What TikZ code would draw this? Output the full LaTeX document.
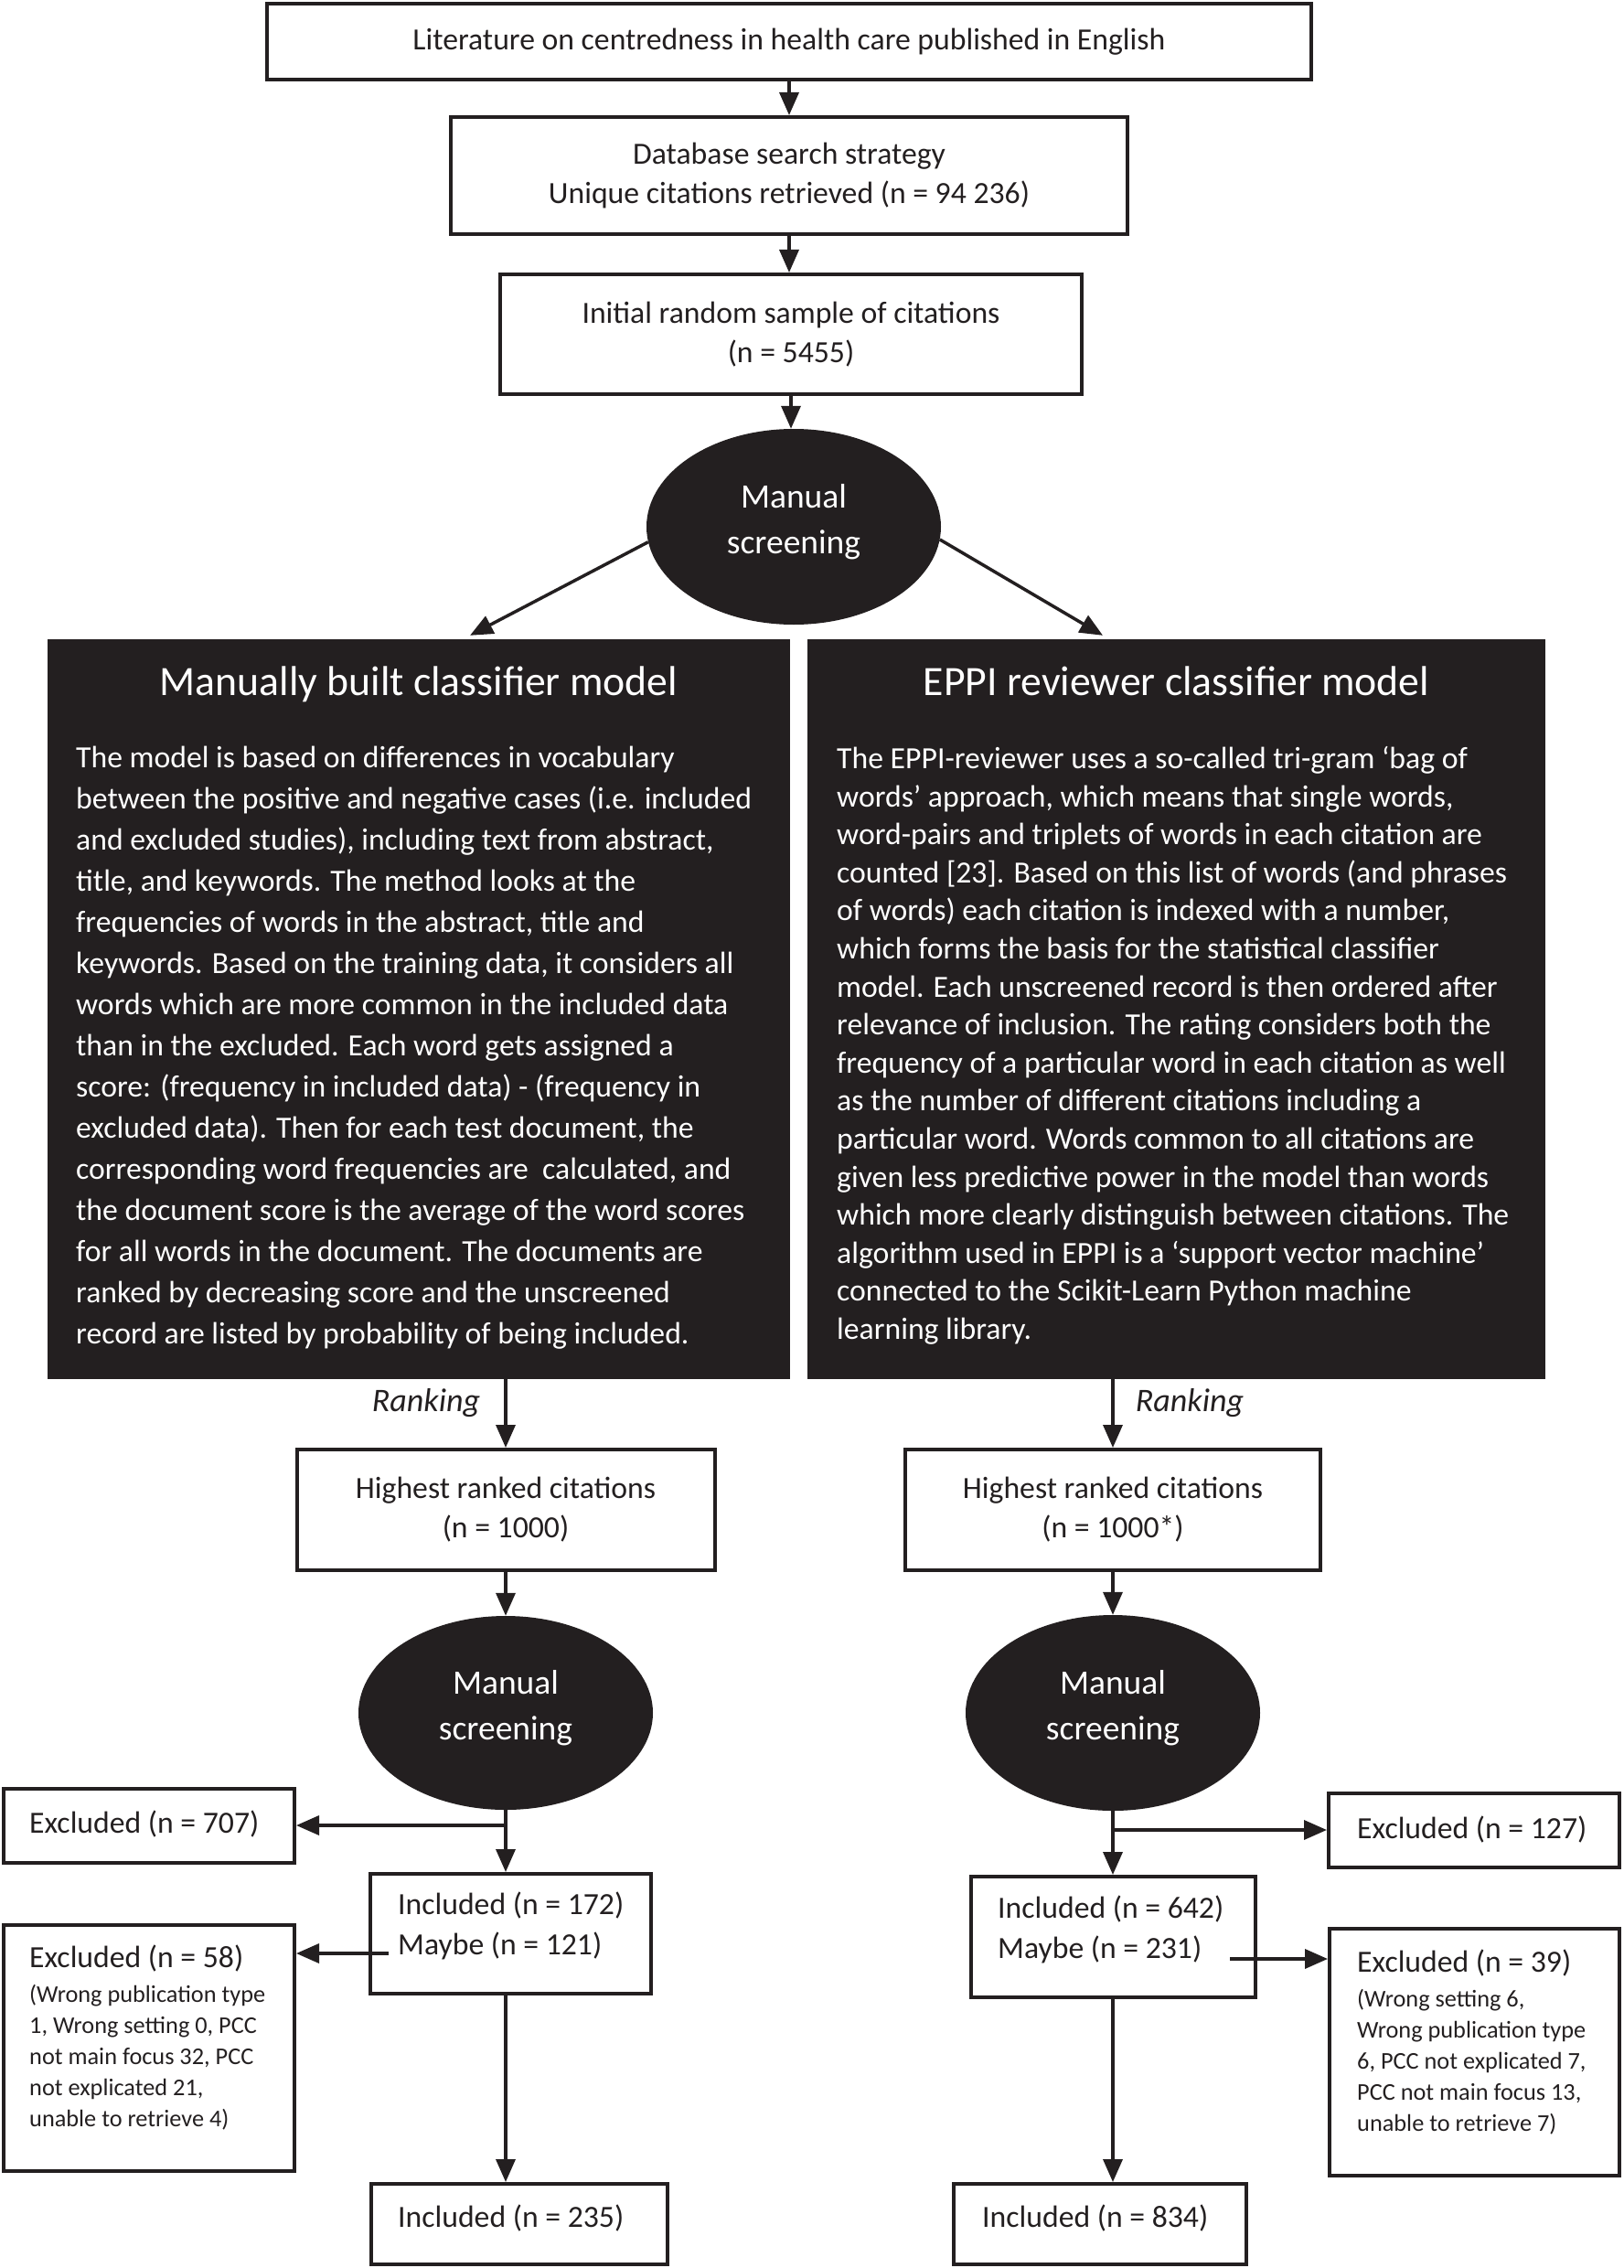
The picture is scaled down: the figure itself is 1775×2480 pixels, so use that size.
\documentclass[tikz,border=0pt]{standalone}
\usepackage{fontspec}
\setmainfont{Carlito}
\usetikzlibrary{arrows.meta,shapes.geometric}
\definecolor{ink}{HTML}{231F20}
\newcommand\fsz[2]{\fontsize{#1}{#2}\selectfont}
\begin{document}
\begin{tikzpicture}[x=1pt,y=-1pt,
  box/.style={draw=ink, line width=4pt, rectangle, inner sep=0pt, text=ink, align=center, font=\fsz{33.7}{43}},
  txt/.style={inner sep=0pt, align=left, text=ink, font=\fsz{33.7}{44}},
  small/.style={inner sep=0pt, align=left, text=ink, font=\fsz{26.3}{34}},
  arr/.style={draw=ink, line width=3.5pt, -{Triangle[length=25pt,width=21pt]}},
  dark/.style={fill=ink, draw=none, inner sep=0pt},
  oval/.style={ellipse, fill=ink, minimum width=322pt, minimum height=212pt, inner sep=0pt},
  ovtxt/.style={inner sep=0pt, text=white, align=center, font=\fsz{37.5}{50}},
  ttl/.style={inner sep=0pt, text=white, font=\fsz{45.7}{50}},
  body/.style={inner sep=0pt, text=white, align=left},
  rank/.style={inner sep=0pt, text=ink, font=\fsz{36}{40}\itshape}
  ]
\useasboundingbox (0,0) rectangle (1775,2480);

% top chain
\node[box, minimum width=1142pt, minimum height=83pt] (lit) at (863,45.5) {Literature on centredness in health care published in English};
\node[box, minimum width=740pt, minimum height=128pt] (db) at (863,192) {Database search strategy\\Unique citations retrieved (n = 94 236)};
\node[box, minimum width=636pt, minimum height=131pt] (samp) at (865,365.5) {Initial random sample of citations\\(n = 5455)};
\node[oval, minimum height=214pt] (ms1) at (868,576) {};
\node[ovtxt] (ms1t) at ([yshift=5pt]ms1.center) {Manual\\screening};

\draw[arr] (lit.south) -- (lit.south |- db.north);
\draw[arr] (db.south) -- (db.south |- samp.north);
\draw[arr] (samp.south) -- (samp.south |- ms1.north);

% dark boxes
\node[dark, minimum width=812pt, minimum height=809pt] (mlb) at (458,1103.5) {};
\node[dark, minimum width=807pt, minimum height=809pt] (epb) at (1286.5,1103.5) {};
\node[ttl, anchor=base] (mlt) at (458,760) {Manually built classifier model};
\node[ttl, anchor=base] (ept) at (1286.5,760) {EPPI reviewer classifier model};
\node[body, anchor=north west, font=\fsz{33.7}{45}] (mlx) at (83,816) {The model is based on differences in vocabulary\\
between the positive and negative cases (i.e. included\\
and excluded studies), including text from abstract,\\
title, and keywords. The method looks at the\\
frequencies of words in the abstract, title and\\
keywords. Based on the training data, it considers all\\
words which are more common in the included data\\
than in the excluded. Each word gets assigned a\\
score: (frequency in included data) - (frequency in\\
excluded data). Then for each test document, the\\
corresponding word frequencies are\ \ calculated, and\\
the document score is the average of the word scores\\
for all words in the document. The documents are\\
ranked by decreasing score and the unscreened\\
record are listed by probability of being included.};
\node[body, anchor=north west, font=\fsz{33.7}{41.6}] (epx) at (915,816) {The EPPI-reviewer uses a so-called tri-gram ‘bag of\\
words’ approach, which means that single words,\\
word-pairs and triplets of words in each citation are\\
counted [23]. Based on this list of words (and phrases\\
of words) each citation is indexed with a number,\\
which forms the basis for the statistical classifier\\
model. Each unscreened record is then ordered after\\
relevance of inclusion. The rating considers both the\\
frequency of a particular word in each citation as well\\
as the number of different citations including a\\
particular word. Words common to all citations are\\
given less predictive power in the model than words\\
which more clearly distinguish between citations. The\\
algorithm used in EPPI is a ‘support vector machine’\\
connected to the Scikit-Learn Python machine\\
learning library.};

\draw[arr] (ms1.186) -- ([xshift=56pt,yshift=4pt]mlb.north);
\draw[arr] (ms1.-5) -- ([xshift=-80.5pt,yshift=4pt]epb.north);

% left column
\node[box, minimum width=457pt, minimum height=132pt] (hr1) at (553,1651) {Highest ranked citations\\(n = 1000)};
\node[oval] (ms2) at (553,1873) {};
\node[ovtxt] (ms2t) at ([yshift=5pt]ms2.center) {Manual\\screening};
\node[rank] (rk1) at (466,1534) {Ranking};
\draw[arr] (hr1.north |- mlb.south) -- (hr1.north);
\draw[arr] (hr1.south) -- (ms2.north);

\node[box, minimum width=318pt, minimum height=81pt] (ex1) at (163,1996) {};
\node[txt, anchor=west] (ex1t) at (32,1994) {Excluded (n = 707)};
\node[box, minimum width=307pt, minimum height=131pt] (im1) at (558.5,2114.5) {};
\node[txt, anchor=west] (im1t) at (435,2106) {Included (n = 172)\\Maybe (n = 121)};
\node[box, minimum width=318pt, minimum height=269pt] (ex2) at (163,2239.5) {};
\node[small, anchor=north west] (ex2t) at (32,2127) {{\fsz{33.7}{34}Excluded (n = 58)}\\[4pt]
(Wrong publication type\\
1, Wrong setting 0, PCC\\
not main focus 32, PCC\\
not explicated 21,\\
unable to retrieve 4)};
\node[box, minimum width=324pt, minimum height=88pt] (inc1) at (568,2432) {};
\node[txt, anchor=west] (inc1t) at (435,2425) {Included (n = 235)};

\draw[arr] (ms2.south) -- (ms2.south |- im1.north);
\draw[arr] (ms2.south |- ex1.east) -- (ex1.east);
\coordinate (m1) at (425,2136);
\draw[arr] (m1) -- (m1 -| ex2.east);
\draw[arr] (ms2.south |- im1.south) -- (ms2.south |- inc1.north);

% right column
\node[box, minimum width=454pt, minimum height=132pt] (hr2) at (1217,1651) {Highest ranked citations\\(n = 1000*)};
\node[oval, minimum height=214pt] (ms3) at (1217,1873) {};
\node[ovtxt] (ms3t) at ([yshift=5pt]ms3.center) {Manual\\screening};
\node[rank] (rk2) at (1301,1534) {Ranking};
\draw[arr] (hr2.north |- epb.south) -- (hr2.north);
\draw[arr] (hr2.south) -- (ms3.north);

\node[box, minimum width=318pt, minimum height=81pt] (ex3) at (1612,2001) {};
\node[txt, anchor=west] (ex3t) at (1484,2000) {Excluded (n = 127)};
\node[box, minimum width=311pt, minimum height=132pt] (im2) at (1217.5,2118) {};
\node[txt, anchor=west] (im2t) at (1091,2109.5) {Included (n = 642)\\Maybe (n = 231)};
\node[box, minimum width=317pt, minimum height=270pt] (ex4) at (1612.5,2244) {};
\node[small, anchor=north west] (ex4t) at (1484,2132) {{\fsz{33.7}{34}Excluded (n = 39)}\\[4pt]
(Wrong setting 6,\\
Wrong publication type\\
6, PCC not explicated 7,\\
PCC not main focus 13,\\
unable to retrieve 7)};
\node[box, minimum width=320pt, minimum height=88pt] (inc2) at (1203,2432) {};
\node[txt, anchor=west] (inc2t) at (1074,2425) {Included (n = 834)};

\draw[arr] (ms3.south) -- (ms3.south |- im2.north);
\draw[arr] (ms3.south |- ex3.west) -- (ex3.west);
\coordinate (m2) at (1345,2142);
\draw[arr] (m2) -- (m2 -| ex4.west);
\draw[arr] (ms3.south |- im2.south) -- (ms3.south |- inc2.north);
\end{tikzpicture}
\end{document}
